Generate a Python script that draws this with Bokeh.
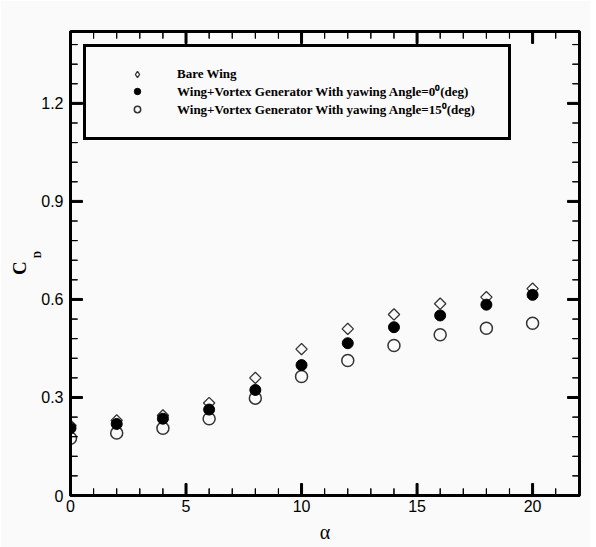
import numpy as np
from bokeh.plotting import figure
from bokeh.models import (Range1d, LinearAxis, FixedTicker, CustomJSTickFormatter,
                          Legend, LegendItem, Title)
from bokeh.embed import file_html
from bokeh.resources import INLINE

# ---- data ----
alpha = [0, 2, 4, 6, 8, 10, 12, 14, 16, 18, 20]
cd_bare = [0.214, 0.230, 0.245, 0.283, 0.360, 0.448, 0.510, 0.554, 0.587, 0.607, 0.633]
cd_vg0 = [0.206, 0.219, 0.235, 0.263, 0.323, 0.399, 0.466, 0.515, 0.551, 0.584, 0.614]
cd_vg15 = [0.175, 0.191, 0.206, 0.235, 0.298, 0.364, 0.413, 0.459, 0.492, 0.512, 0.527]

x_major = [0, 5, 10, 15, 20]
y_major = [0, 0.3, 0.6, 0.9, 1.2]
x_minor = [1, 2, 3, 4, 6, 7, 8, 9, 11, 12, 13, 14, 16, 17, 18, 19, 21, 22]
y_minor = [0.06, 0.12, 0.18, 0.24, 0.36, 0.42, 0.48, 0.54, 0.66, 0.72, 0.78, 0.84,
           0.96, 1.02, 1.08, 1.14, 1.26, 1.32, 1.38]
labels = ["Bare Wing",
          "Wing+Vortex Generator With yawing Angle=0\u2070(deg)",
          "Wing+Vortex Generator With yawing Angle=15\u2070(deg)"]

X0, X1 = 0, 22.03
Y0, Y1 = 0, 1.42
BG = "#fafafa"
NBSP = "\u00a0"

W, H = 590, 547
BL, BR, BT, BB = 70, 11, 31, 52
FW, FH = W - BL - BR, H - BT - BB   # frame size in px

p = figure(width=W, height=H, output_backend="svg", toolbar_location=None,
           x_range=Range1d(X0, X1), y_range=Range1d(Y0, Y1),
           min_border_left=BL, min_border_right=BR, min_border_top=BT, min_border_bottom=BB,
           background_fill_color=BG, border_fill_color=BG)
p.xgrid.visible = False
p.ygrid.visible = False
p.outline_line_color = "black"
p.outline_line_width = 3

yfmt = CustomJSTickFormatter(code="return tick == 0 ? '0' : tick.toFixed(1);")
ax_b = LinearAxis(ticker=FixedTicker(ticks=x_major, minor_ticks=[]))
ax_l = LinearAxis(ticker=FixedTicker(ticks=y_major, minor_ticks=[]), formatter=yfmt)
p.below = []
p.left = []
p.add_layout(ax_b, "below")
p.add_layout(ax_l, "left")

for ax in (ax_b, ax_l):
    ax.axis_line_width = 3
    ax.axis_line_color = "black"
    ax.major_tick_in = 0
    ax.major_tick_out = 0
    ax.minor_tick_in = 0
    ax.minor_tick_out = 0
    ax.major_tick_line_color = None
    ax.minor_tick_line_color = None
    ax.major_label_text_font = "Liberation Sans"
    ax.major_label_text_font_size = "16px"
    ax.major_label_text_color = "black"

ax_b.major_label_standoff = 4
ax_b.axis_label = "\u03b1"
ax_b.axis_label_text_font = "Liberation Serif"
ax_b.axis_label_text_font_style = "normal"
ax_b.axis_label_text_font_size = "20px"
ax_b.axis_label_text_color = "black"
ax_b.axis_label_standoff = 6

ax_l.major_label_standoff = 7
ax_l.axis_label = NBSP * 7 + "D"
ax_l.axis_label_text_font = "Liberation Serif"
ax_l.axis_label_text_font_style = "bold"
ax_l.axis_label_text_font_size = "10px"
ax_l.axis_label_text_color = "black"
ax_l.axis_label_standoff = -5

p.add_layout(Title(text="C" + NBSP * 2, align="center", standoff=0,
                   text_font="Liberation Serif", text_font_style="bold",
                   text_font_size="19px", text_color="black"), "left")

r15 = p.scatter(alpha, cd_vg15, marker="circle", size=12, fill_color=None,
                line_color="#333333", line_width=1.5)
rbare = p.scatter(alpha, cd_bare, marker="square", angle=np.pi / 4, size=8,
                  fill_color=None, line_color="#333333", line_width=1.3)
r0 = p.scatter(alpha, cd_vg0, marker="circle", size=11, fill_color="black",
               line_color="black", line_width=1)
# legend swatch for the diamonds (legend glyphs ignore marker angle)
rbare_key = p.scatter([float("nan")], [float("nan")], marker="diamond", size=13,
                      fill_color=None, line_color="#333333", line_width=1.3)

# inward tick marks on all four sides: thin outlined + filled bars whose
# centres lie inside the frame (tick length in px, converted to data units)
def tick_len_x(px):
    return px * (X1 - X0) / FW

def tick_len_y(px):
    return px * (Y1 - Y0) / FH

def vticks(xs, px, width):
    n = len(xs)
    ly = tick_len_y(px)
    for yc in (Y0 + ly / 2, Y1 - ly / 2):
        p.rect(x=xs, y=[yc] * n, width=width, height=ly, width_units="screen",
               height_units="data", fill_color="black", line_color="black",
               line_width=1)

def hticks(ys, px, width):
    n = len(ys)
    lx = tick_len_x(px)
    for xc in (X0 + lx / 2, X1 - lx / 2):
        p.rect(x=[xc] * n, y=ys, width=lx, height=width, width_units="data",
               height_units="screen", fill_color="black", line_color="black",
               line_width=1)

vticks(x_major, 12, 2)
vticks(x_minor, 7, 0.2)
hticks(y_major, 12, 2)
hticks(y_minor, 7, 0.2)

legend = Legend(items=[LegendItem(label=labels[0], renderers=[rbare_key]),
                       LegendItem(label=labels[1], renderers=[r0]),
                       LegendItem(label=labels[2], renderers=[r15])],
                location="top_left", margin=13, padding=19, spacing=0,
                glyph_width=64, glyph_height=16, label_height=16,
                label_standoff=8, label_width=312,
                border_line_color="black", border_line_width=3, border_line_alpha=1,
                background_fill_color=BG, background_fill_alpha=1,
                label_text_font="Liberation Serif", label_text_font_style="bold",
                label_text_font_size="13px", label_text_line_height=1.0,
                label_text_color="black")
p.add_layout(legend, "center")

open("out.html", "w").write(file_html(p, INLINE))
